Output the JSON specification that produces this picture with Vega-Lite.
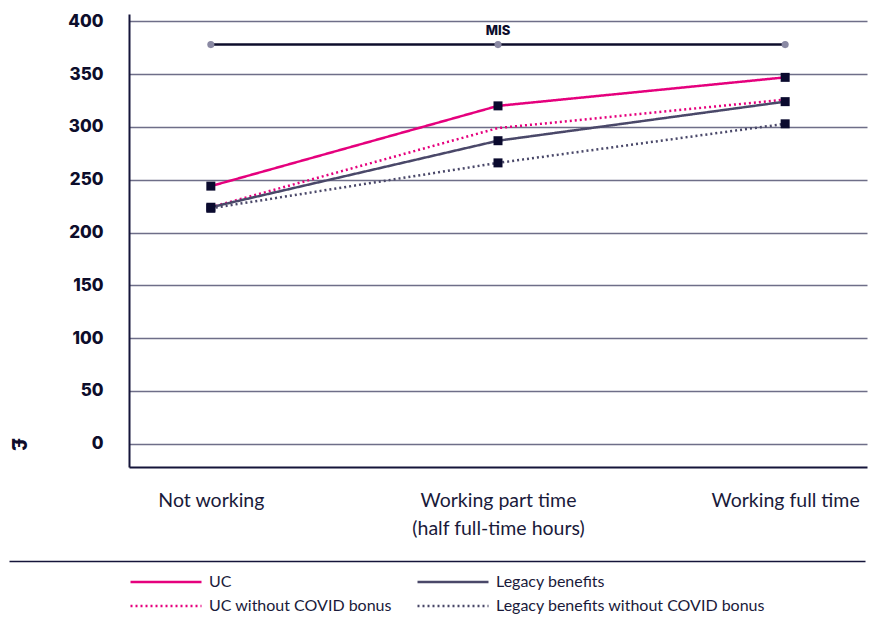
{
  "$schema": "https://vega.github.io/schema/vega-lite/v6.json",
  "background": "white",
  "padding": {"left": 7, "top": 12, "right": 5, "bottom": 5},
  "config": {
    "view": {"stroke": null},
    "font": "Lato",
    "legend": {"labelFont": "Lato"}
  },
  "datasets": {
    "income": [
      {"status": "Not working", "series": "UC", "value": 244},
      {"status": "Working part time", "series": "UC", "value": 320},
      {"status": "Working full time", "series": "UC", "value": 347},
      {"status": "Not working", "series": "UC without COVID bonus", "value": 224},
      {"status": "Working part time", "series": "UC without COVID bonus", "value": 299},
      {"status": "Working full time", "series": "UC without COVID bonus", "value": 326},
      {"status": "Not working", "series": "Legacy benefits", "value": 224},
      {"status": "Working part time", "series": "Legacy benefits", "value": 287},
      {"status": "Working full time", "series": "Legacy benefits", "value": 324},
      {"status": "Not working", "series": "Legacy benefits without COVID bonus", "value": 223},
      {"status": "Working part time", "series": "Legacy benefits without COVID bonus", "value": 266},
      {"status": "Working full time", "series": "Legacy benefits without COVID bonus", "value": 303}
    ],
    "mis": [
      {"status": "Not working", "value": 378, "label": ""},
      {"status": "Working part time", "value": 378, "label": "MIS"},
      {"status": "Working full time", "value": 378, "label": ""}
    ]
  },
  "columns": 1,
  "align": "none",
  "spacing": 17,
  "concat": [
    {
      "width": 738,
      "height": 453,
      "encoding": {
        "x": {
          "field": "status",
          "type": "nominal",
          "sort": ["Not working", "Working part time", "Working full time"],
          "scale": {"type": "point", "padding": 0.285},
          "axis": {
            "title": null,
            "labelAngle": 0,
            "ticks": false,
            "grid": false,
            "domainColor": "#15153a",
            "domainWidth": 2,
            "labelFont": "Lato",
            "labelFontSize": 19.5,
            "labelColor": "#1a1a3a",
            "labelPadding": 24,
            "labelLimit": 300,
            "labelLineHeight": 28,
            "labelExpr": "datum.label == 'Working part time' ? ['Working part time', '(half full-time hours)'] : datum.label"
          }
        },
        "y": {
          "field": "value",
          "type": "quantitative",
          "scale": {"domain": [-22, 407], "nice": false, "zero": false},
          "axis": {
            "values": [0, 50, 100, 150, 200, 250, 300, 350, 400],
            "ticks": false,
            "grid": true,
            "gridColor": "#6e6e88",
            "gridWidth": 1.5,
            "domainColor": "#15153a",
            "domainWidth": 2,
            "labelFont": "Inter",
            "labelFontWeight": 800,
            "labelFontSize": 17,
            "labelColor": "#0d0d2b",
            "labelPadding": 26,
            "title": "£",
            "titleFont": "Inter",
            "titleFontWeight": 800,
            "titleFontSize": 20,
            "titleColor": "#0d0d2b",
            "titleAngle": 90,
            "titleX": -112,
            "titleY": 430,
            "titleAlign": "center",
            "titleBaseline": "middle"
          }
        }
      },
      "layer": [
        {
          "data": {"name": "mis"},
          "mark": {"type": "line", "color": "#0d0d2b", "strokeWidth": 2.5},
          "encoding": {}
        },
        {
          "data": {"name": "income"},
          "mark": {"type": "line", "strokeWidth": 2.5},
          "encoding": {
            "color": {
              "field": "series",
              "type": "nominal",
              "scale": {
                "domain": ["UC", "UC without COVID bonus", "Legacy benefits", "Legacy benefits without COVID bonus"],
                "range": ["#e5007d", "#e5007d", "#4a4869", "#4a4869"]
              },
              "legend": {
                "title": null,
                "orient": "none",
                "legendX": 0,
                "legendY": 560,
                "columns": 2,
                "columnPadding": 24,
                "rowPadding": 8,
                "clipHeight": 16,
                "symbolType": "stroke",
                "symbolSize": 5041,
                "symbolStrokeWidth": 2.5,
                "labelFontSize": 16,
                "labelColor": "#1a1a3a",
                "labelOffset": 6,
                "labelLimit": 400
              }
            },
            "strokeDash": {
              "field": "series",
              "type": "nominal",
              "scale": {
                "domain": ["UC", "UC without COVID bonus", "Legacy benefits", "Legacy benefits without COVID bonus"],
                "range": [[1, 0], [2, 3], [1, 0], [2, 3]]
              },
              "legend": {
                "title": null,
                "orient": "none",
                "legendX": 0,
                "legendY": 560,
                "columns": 2,
                "columnPadding": 24,
                "rowPadding": 8,
                "clipHeight": 16,
                "symbolType": "stroke",
                "symbolSize": 5041,
                "symbolStrokeWidth": 2.5,
                "labelFontSize": 16,
                "labelColor": "#1a1a3a",
                "labelOffset": 6,
                "labelLimit": 400
              }
            }
          }
        },
        {
          "data": {"name": "income"},
          "transform": [{"filter": "datum.series != 'UC without COVID bonus'"}],
          "mark": {"type": "point", "shape": "square", "filled": true, "opacity": 1, "color": "#0a0a2e", "size": 81},
          "encoding": {}
        },
        {
          "data": {"name": "mis"},
          "mark": {"type": "point", "shape": "circle", "filled": true, "opacity": 1, "color": "#8a89a3", "size": 50},
          "encoding": {}
        },
        {
          "data": {"name": "mis"},
          "mark": {"type": "text", "dy": -14, "font": "Inter", "fontWeight": 800, "fontSize": 13, "color": "#0d0d2b"},
          "encoding": {"text": {"field": "label"}}
        }
      ]
    },
    {
      "width": 738,
      "height": 1,
      "data": {"values": [{"label": ""}]},
      "mark": {"type": "text"},
      "encoding": {
        "text": {"field": "label"},
        "x": {
          "datum": 0,
          "type": "quantitative",
          "scale": {"domain": [0, 1], "range": [-120, 736]},
          "axis": {
            "orient": "top",
            "title": null,
            "labels": false,
            "ticks": false,
            "grid": false,
            "domain": true,
            "domainColor": "#15153a",
            "domainWidth": 1.5
          }
        }
      }
    }
  ]
}
